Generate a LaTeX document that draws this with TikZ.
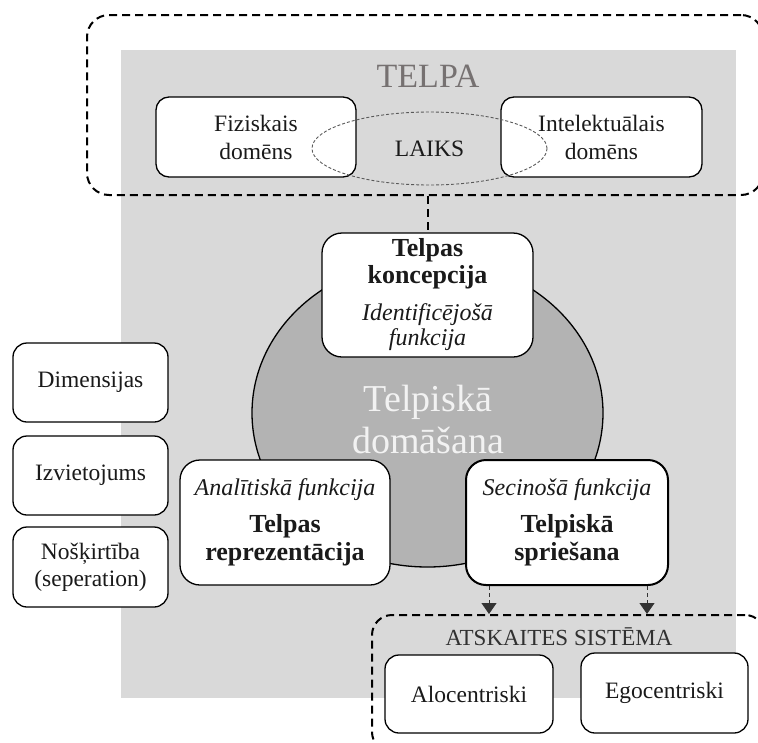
\documentclass[tikz,border=0pt]{standalone}
\usepackage{fontspec}
\setmainfont{Liberation Serif}
\usetikzlibrary{shapes.geometric,arrows.meta}
\definecolor{bggray}{HTML}{D9D9D9}
\definecolor{circgray}{HTML}{B3B3B3}
\definecolor{telpacol}{HTML}{767171}
\definecolor{domcol}{HTML}{F2F2F2}
\definecolor{txtcol}{HTML}{1A1A1A}
\newcommand\dBold{\fontsize{26}{27}\selectfont\bfseries}
\newcommand\dItal{\fontsize{24}{27}\selectfont\itshape}
\tikzset{
  rbox/.style={draw=black, fill=white, line width=1.3pt, rounded corners=#1,
    inner sep=0pt, align=center, text=txtcol, font=\fontsize{23.5}{28}\selectfont},
  rbox/.default=14pt,
  thickdash/.style={draw=black, line width=2pt, dash pattern=on 8pt off 5pt},
  frame/.style={thickdash, rounded corners=22pt, inner sep=0pt},
  thindash/.style={draw=black!80, line width=0.9pt, dash pattern=on 4pt off 3pt},
  arr/.style={thindash, -{Triangle[width=15pt,length=11pt]}},
}
\begin{document}
\begin{tikzpicture}[x=1pt,y=-1pt]
\useasboundingbox (0,0) rectangle (758,742);
% background
\node[fill=bggray, inner sep=0pt, minimum width=615pt, minimum height=648pt] (bg) at (428.5,374) {};
% top frame
\node[frame, minimum width=676pt, minimum height=180pt] (topframe) at (425,105) {};
\node[text=telpacol, font=\fontsize{34}{36}\selectfont, inner sep=0pt] (telpa) at (428,76) {TELPA};
\node[rbox=13pt, minimum width=200pt, minimum height=80pt] (fiz) at (256,137) {Fiziskais\\domēns};
\node[rbox=13pt, minimum width=201pt, minimum height=80pt] (intel) at (601.5,137) {Intelektuālais\\domēns};
\node[ellipse, draw=black!65, line width=0.9pt, dash pattern=on 3pt off 2pt, inner sep=0pt,
  minimum width=235pt, minimum height=73pt, text=txtcol, font=\fontsize{23.5}{28}\selectfont] (laiks) at (429.5,148.5) {LAIKS};
% central ellipse
\node[ellipse, draw=black, fill=circgray, line width=1.3pt, inner sep=0pt,
  minimum width=351pt, minimum height=308pt] (dom) at (427.5,413) {};
\node[text=domcol, align=center, inner sep=0pt, font=\fontsize{38}{42}\selectfont] (domtxt) at (428,419) {Telpiskā\\domāšana};
% function boxes
\node[rbox=20pt, minimum width=211pt, minimum height=124pt, font=\fontsize{24}{27}\selectfont] (konc) at (427.5,295)
  {{\dBold Telpas}\\{\dBold koncepcija}\\[10pt]{\dItal Identificējošā}\\[-2pt]{\dItal funkcija}};
\node[rbox=20pt, minimum width=210pt, minimum height=125pt, font=\fontsize{24}{28}\selectfont] (repr) at (285,522.5)
  {{\dItal Analītiskā funkcija}\\[9pt]{\dBold Telpas}\\{\dBold reprezentācija}};
\node[rbox=20pt, line width=2pt, minimum width=202pt, minimum height=125pt, font=\fontsize{24}{28}\selectfont] (sprie) at (567,522.5)
  {{\dItal Secinošā funkcija}\\[9pt]{\dBold Telpiskā}\\{\dBold spriešana}};
% left boxes
\node[rbox=14pt, minimum width=155pt, minimum height=79pt] (dim) at (90.5,382.5) {Dimensijas};
\node[rbox=14pt, minimum width=155pt, minimum height=79pt] (izv) at (90.5,475.5) {Izvietojums};
\node[rbox=14pt, minimum width=155pt, minimum height=80pt, font=\fontsize{23.5}{27}\selectfont] (nos) at (90.5,567) {Nošķirtība\\(seperation)};
% bottom frame
\node[frame, rounded corners=20pt, minimum width=393pt, minimum height=137pt] (bframe) at (568.5,683.5) {};
\node[text=txtcol!90, inner sep=0pt, font=\fontsize{23}{26}\selectfont] (atsk) at (559,636.5) {ATSKAITES SISTĒMA};
\node[rbox=14pt, minimum width=168pt, minimum height=78pt] (alo) at (469,694) {Alocentriski};
\node[rbox=14pt, minimum width=167pt, minimum height=80pt] (ego) at (664.5,693) {Egocentriski};
% connectors
\draw[thickdash] (konc.north |- topframe.south) -- (konc.north);
\coordinate (a1) at ([xshift=24pt]sprie.south west);
\coordinate (a2) at ([xshift=-22pt]sprie.south east);
\draw[arr] (a1) -- (a1 |- bframe.north);
\draw[arr] (a2) -- (a2 |- bframe.north);
\end{tikzpicture}
\end{document}
